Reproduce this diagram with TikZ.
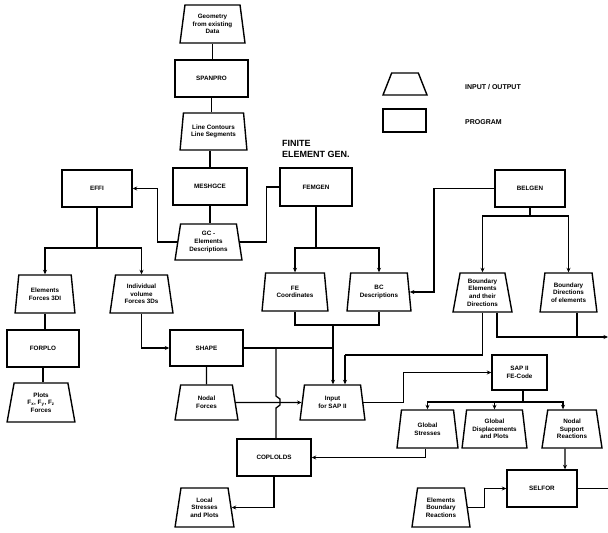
\documentclass[tikz,border=0pt]{standalone}
\usepackage{fontspec}
\setmainfont{Liberation Sans}
\usetikzlibrary{shapes.geometric,arrows.meta,calc}
\newcommand\nodefont{\fontsize{6.3}{7.6}\selectfont\bfseries}
\tikzset{
  ln/.style={line width=1.3pt},
  arr/.style={line width=1.3pt,-{Stealth[length=4.5pt,width=4pt]}},
  prog/.style 2 args={draw,line width=1.4pt,rectangle,minimum width=#1pt,minimum height=#2pt,
    align=center,font=\nodefont,inner sep=1pt},
  io/.style 2 args={draw,line width=1.4pt,trapezium,trapezium stretches=true,
    trapezium left angle=80,trapezium right angle=80,minimum width=#1pt,minimum height=#2pt,
    align=center,font=\nodefont,inner sep=0.5pt},
  lbl/.style={font=\fontsize{7}{8}\selectfont\bfseries,inner sep=0pt}
}
\begin{document}
\begin{tikzpicture}[x=1pt,y=-1pt]
\useasboundingbox[fill=white] (0,0) rectangle (608,533);
% nodes
\node[io={65}{38}] (geo) at (212.5,24) {Geometry\\from existing\\Data};
\node[prog={73}{37}] (spanpro) at (211.5,78.5) {SPANPRO};
\node[io={67}{37}] (contours) at (213.5,131.5) {Line Contours\\Line Segments};
\node[prog={74}{37}] (meshgce) at (210,186.5) {MESHGCE};
\node[io={67}{36}] (gcelem) at (208.5,242) {GC -\\Elements\\Descriptions};
\node[prog={70}{37}] (effi) at (97,188.5) {EFFI};
\node[prog={72}{38}] (femgen) at (316,187) {FEMGEN};
\node[prog={70}{37}] (belgen) at (530,188.5) {BELGEN};
\node[io={60}{38}] (elforces) at (45,294) {Elements\\Forces 3DI};
\node[io={63}{38}] (indforces) at (141.5,294) {Individual\\volume\\Forces 3Ds};
\node[io={66}{38}] (fecoord) at (295,292) {FE\\Coordinates};
\node[io={64}{38}] (bcdesc) at (379,292) {BC\\Descriptions};
\node[io={59}{39}] (bdelem) at (482.5,292.5) {Boundary\\Elements\\and their\\Directions};
\node[io={57}{39}] (bddir) at (568.5,292.5) {Boundary\\Directions\\of elements};
\node[prog={72}{37}] (forplo) at (43,348.5) {FORPLO};
\node[io={68}{39}] (plots) at (41,402.5) {Plots\\F\textsubscript{x}, F\textsubscript{y}, F\textsubscript{z}\\Forces};
\node[prog={73}{36}] (shape) at (206.5,348) {SHAPE};
\node[io={63}{35}] (nodalf) at (206.5,402.5) {Nodal\\Forces};
\node[io={65}{35}] (inputsap) at (332.5,402.5) {Input\\for SAP II};
\node[prog={55}{35}] (sap) at (519.5,372.5) {SAP II\\FE-Code};
\node[io={61}{38}] (glstress) at (427.5,429) {Global\\Stresses};
\node[io={65}{38}] (gldisp) at (494.5,429) {Global\\Displacements\\and Plots};
\node[io={60}{38}] (nodsup) at (572,429) {Nodal\\Support\\Reactions};
\node[prog={74}{37}] (coplolds) at (274,457.5) {COPLOLDS};
\node[io={59}{39}] (localst) at (204.5,507.5) {Local\\Stresses\\and Plots};
\node[prog={70}{37}] (selfor) at (542,488.5) {SELFOR};
\node[io={58}{39}] (elbound) at (441,507.5) {Elements\\Boundary\\Reactions};
% legend
\node[draw,line width=1.4pt,trapezium,trapezium stretches=true,trapezium left angle=72,
  trapezium right angle=72,minimum width=44pt,minimum height=22pt] (legio) at (405,84) {};
\node[prog={43}{23}] (legprog) at (404.5,120.5) {};
\node[lbl,anchor=west] (legiot) at (465,87) {INPUT / OUTPUT};
\node[lbl,anchor=west] (legprogt) at (465,122) {PROGRAM};
% handwritten label
\node[anchor=north west,align=left,inner sep=0pt,font=\fontsize{9}{11}\selectfont\bfseries] (hand) at (282,140) {FINITE\\ELEMENT GEN.};
% junctions
\coordinate (j1) at (97,248);
\coordinate (j2) at (316,248);
\coordinate (j3) at (333,325);
\coordinate (j4) at (276,348);
\coordinate (j5) at (530,216);
\coordinate (j6) at (345,355);
\coordinate (j7) at (523,402);
\coordinate (e1) at (608,337);
% connectors
\draw[ln] (geo.south) -- (geo.south |- spanpro.north);
\draw[ln] (spanpro.south) -- (spanpro.south |- contours.north);
\draw[ln] (meshgce.north |- contours.south) -- (meshgce.north);
\draw[ln] (meshgce.south) -- (meshgce.south |- gcelem.north);
\draw[arr] (gcelem.west) -| ([xshift=25pt]effi.east) -- (effi.east);
\draw[ln] (gcelem.east) -| ([xshift=-13pt]femgen.west) -- (femgen.west);
\draw[ln] (effi.south) -- (j1);
\draw[arr] (j1) -| (elforces.north);
\draw[arr] (j1) -| (indforces.north);
\draw[ln] (elforces.south) -- (elforces.south |- forplo.north);
\draw[ln] (forplo.south) -- (forplo.south |- plots.north);
\draw[arr] (indforces.south) |- (shape.west);
\draw[ln] (shape.south) -- (nodalf.north);
\draw[arr] (nodalf.east) -- (inputsap.west);
\draw[ln] (femgen.south) -- (j2);
\draw[arr] (j2) -| (fecoord.north);
\draw[arr] (j2) -| (bcdesc.north);
\draw[ln] (fecoord.south) |- (j3);
\draw[ln] (bcdesc.south) |- (j3);
\draw[arr] (j3) -- (j3 |- inputsap.north);
\draw[ln] (shape.east) -- (shape.east -| j3);
\draw[ln] (j4) -- ++(0,48) -- ++(4,3) -- ++(0,6) -- ++(-4,3) -- (j4 |- coplolds.north);
\draw[arr] (belgen.west) -| ([xshift=24pt]bcdesc.east) -- (bcdesc.east);
\draw[ln] (belgen.south) -- (j5);
\draw[arr] (j5) -| (bdelem.north);
\draw[arr] (j5) -| (bddir.north);
\draw[ln] (bdelem.south) |- (j6);
\draw[arr] (j6) -- (j6 |- inputsap.north);
\draw[arr] ([xshift=14.5pt]bdelem.south) |- (e1);
\draw[ln] ([xshift=8.5pt]bddir.south) -- ++(0,25);
\draw[arr] (inputsap.east) -- ++(40,0) |- (sap.west);
\draw[ln] (sap.south -| j7) -- (j7);
\draw[arr] (j7) -| (glstress.north);
\draw[arr] (j7) -| (gldisp.north);
\draw[arr] (j7) -| ([xshift=-9pt]nodsup.north);
\draw[arr] ([xshift=-2pt]glstress.south) |- (coplolds.east);
\draw[arr] (coplolds.south) |- (localst.east);
\draw[arr] ([xshift=-7pt]nodsup.south) -- ([xshift=23pt]selfor.north);
\draw[ln] (selfor.east) -- (selfor.east -| e1);
\draw[arr] (elbound.east) -| ([xshift=-22pt]selfor.west) -- (selfor.west);
\end{tikzpicture}
\end{document}
